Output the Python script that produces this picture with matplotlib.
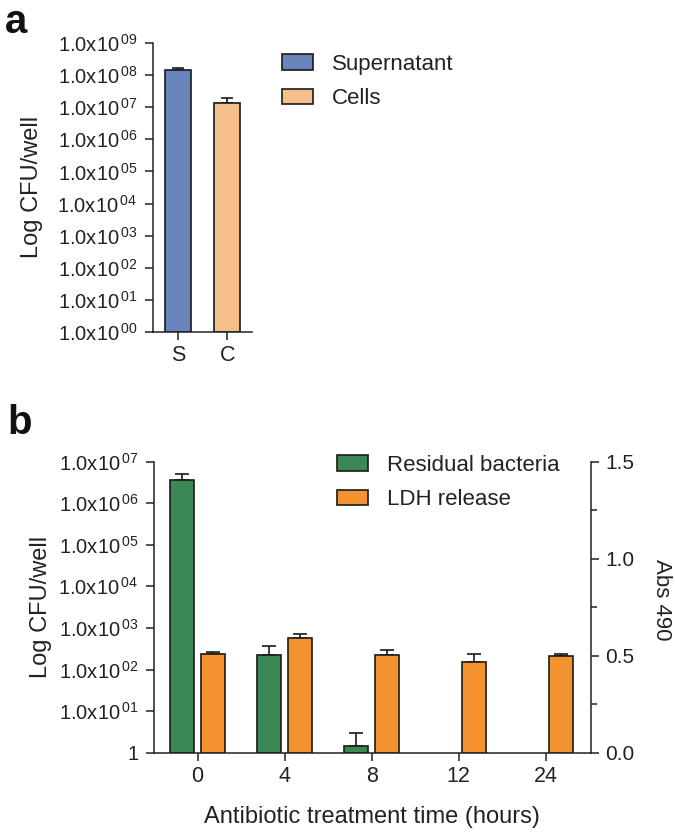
import numpy as np
import matplotlib
matplotlib.use("Agg")
import matplotlib.pyplot as plt
from matplotlib.patches import Patch

plt.rcParams['font.family'] = ['Liberation Sans', 'DejaVu Sans']
plt.rcParams['mathtext.fontset'] = 'custom'
plt.rcParams['mathtext.rm'] = 'Liberation Sans'
plt.rcParams['mathtext.default'] = 'regular'

# ---------------- data ----------------
# Panel a
a_categories = ["S", "C"]
a_labels = ["Supernatant", "Cells"]
a_values = [1.45e8, 1.4e7]
a_err_upper = [1.7e8, 1.9e7]          # top of error bar
a_colors = ["#6A85BB", "#F4BF8A"]
a_yticks_exp = [0, 1, 2, 3, 4, 5, 6, 7, 8, 9]

# Panel b
b_times = ["0", "4", "8", "12", "24"]
b_bacteria = [3.6e6, 2.2e2, 1.47, np.nan, np.nan]
b_bacteria_err_top = [5.0e6, 3.6e2, 2.9, np.nan, np.nan]
b_ldh = [0.51, 0.59, 0.505, 0.465, 0.50]
b_ldh_err_top = [0.52, 0.613, 0.53, 0.51, 0.508]
b_series = ["Residual bacteria", "LDH release"]
b_colors = ["#3B8756", "#F59230"]
b_yticks_exp = [0, 1, 2, 3, 4, 5, 6, 7]
b_right_ticks = [0.0, 0.5, 1.0, 1.5]

TXT = "#222222"
EDGE = "#1a1a1a"
W, H = 675, 833
fig = plt.figure(figsize=(W / 100, H / 100), dpi=100)

def px_axes(l, r, t, b):
    return fig.add_axes([l / W, 1 - b / H, (r - l) / W, (b - t) / H])

def style(ax):
    for s in ["top", "right"]:
        ax.spines[s].set_visible(False)
    for s in ["left", "bottom"]:
        ax.spines[s].set_linewidth(1.1)
        ax.spines[s].set_color("#222222")
    ax.tick_params(axis="both", which="major", length=6, width=1.1, color="#222222", labelcolor=TXT)
    ax.tick_params(axis="y", which="major", pad=5)
    ax.tick_params(axis="y", which="minor", left=False, right=False)

def sci(e):
    return r"1.0x10$^{\,%02d}$" % e

# ---------------- panel a ----------------
axa = px_axes(153, 252, 43, 332)
style(axa)
xa = np.arange(len(a_categories))
axa.set_yscale("log")
axa.set_ylim(1, 1e9)
axa.set_xlim(-0.5, 1.5)
axa.bar(xa, [v - 1 for v in a_values], bottom=1, width=0.52, color=a_colors, edgecolor=EDGE, linewidth=1.2, zorder=2)
lower = [0 for v in a_values]
upper = [t - v for t, v in zip(a_err_upper, a_values)]
axa.errorbar(xa, a_values, yerr=[lower, upper], fmt="none", ecolor=EDGE, elinewidth=1.2, capsize=4.5, capthick=1.2, zorder=1)
axa.set_yticks([10.0 ** e for e in a_yticks_exp])
axa.set_yticklabels([sci(e) for e in a_yticks_exp], fontsize=14.5)
axa.yaxis.set_minor_locator(matplotlib.ticker.NullLocator())
axa.set_xticks(xa)
axa.set_xticklabels(a_categories, fontsize=15.5)
fig.text(32 / W, 1 - 187 / H, "Log CFU/well", rotation=90, ha="center", va="center", fontsize=17, color=TXT)
handles_a = [Patch(facecolor=c, edgecolor=EDGE, linewidth=1.2, label=l) for c, l in zip(a_colors, a_labels)]
fig.legend(handles=handles_a, loc="upper left", bbox_to_anchor=(282 / W, 1 - 54 / H), frameon=False,
           fontsize=16, handlelength=1.4, handleheight=0.72, handletextpad=0.85, labelspacing=0.6,
           borderpad=0, borderaxespad=0, labelcolor=TXT)
fig.text(5 / W, 1 - 3 / H, "a", fontsize=29, fontweight="bold", ha="left", va="top", color="#111111")

# ---------------- panel b ----------------
axb = px_axes(154, 591, 461.5, 752.7)
style(axb)
xb = np.arange(len(b_times))
off = 0.18
bw = 0.275
axb.set_yscale("log")
axb.set_ylim(1, 1e7)
axb.set_xlim(-0.5, 4.52)
axb.bar(xb - off, [v - 1 for v in b_bacteria], bottom=1, width=bw, color=b_colors[0], edgecolor=EDGE, linewidth=1.2, zorder=2)
bl = [0 if not np.isnan(v) else np.nan for v in b_bacteria]
bu = [t - v for t, v in zip(b_bacteria_err_top, b_bacteria)]
axb.errorbar(xb - off, b_bacteria, yerr=[bl, bu], fmt="none", ecolor=EDGE, elinewidth=1.2, capsize=5, capthick=1.2, zorder=1)
axb.set_yticks([10.0 ** e for e in b_yticks_exp])
axb.set_yticklabels(["1" if e == 0 else sci(e) for e in b_yticks_exp], fontsize=14.5)
axb.yaxis.set_minor_locator(matplotlib.ticker.NullLocator())
axb.set_xticks(xb)
axb.set_xticklabels(b_times, fontsize=15.5)

ax2 = axb.twinx()
ax2.set_ylim(0, 1.5)
for s in ["top", "left", "bottom"]:
    ax2.spines[s].set_visible(False)
ax2.spines["right"].set_linewidth(1.1)
ax2.spines["right"].set_color("#222222")
ax2.bar(xb + off, b_ldh, width=bw, color=b_colors[1], edgecolor=EDGE, linewidth=1.2, zorder=2)
lu = [t - v for t, v in zip(b_ldh_err_top, b_ldh)]
ax2.errorbar(xb + off, b_ldh, yerr=[[0] * len(b_ldh), lu], fmt="none", ecolor=EDGE, elinewidth=1.2, capsize=5, capthick=1.2, zorder=1)
ax2.set_yticks(b_right_ticks)
ax2.set_yticklabels(["%.1f" % v for v in b_right_ticks], fontsize=15)
ax2.yaxis.set_minor_locator(matplotlib.ticker.MultipleLocator(0.25))
ax2.tick_params(axis="y", which="major", length=6, width=1.1, color="#222222", labelcolor=TXT, pad=4)
ax2.tick_params(axis="y", which="minor", length=4, width=1.1, color="#222222")

fig.text(372 / W, 1 - 817 / H, "Antibiotic treatment time (hours)", ha="center", va="center", fontsize=17, color=TXT)
fig.text(41 / W, 1 - 607 / H, "Log CFU/well", rotation=90, ha="center", va="center", fontsize=17, color=TXT)
fig.text(662 / W, 1 - 600 / H, "Abs 490", rotation=270, ha="center", va="center", fontsize=16, color=TXT)

handles_b = [Patch(facecolor=c, edgecolor=EDGE, linewidth=1.2, label=l) for c, l in zip(b_colors, b_series)]
fig.legend(handles=handles_b, loc="upper left", bbox_to_anchor=(337 / W, 1 - 455 / H), frameon=False,
           fontsize=16, handlelength=1.4, handleheight=0.72, handletextpad=0.85, labelspacing=0.6,
           borderpad=0, borderaxespad=0, labelcolor=TXT)
fig.text(7 / W, 1 - 404 / H, "b", fontsize=29, fontweight="bold", ha="left", va="top", color="#111111")

fig.savefig("out.png", dpi=100, facecolor="white")
